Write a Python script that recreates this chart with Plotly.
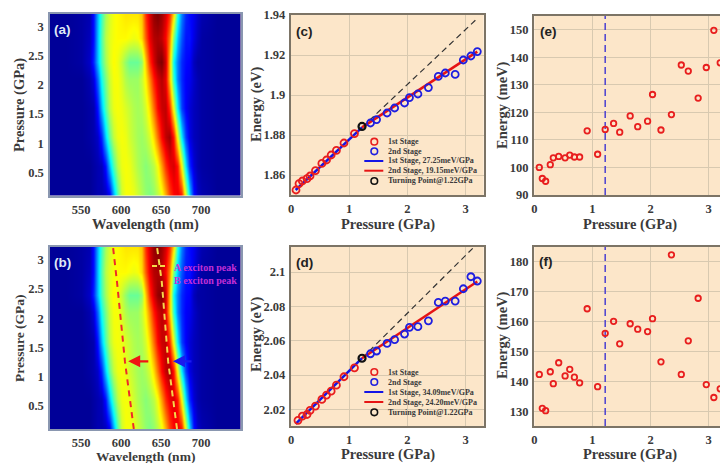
import plotly.graph_objects as go

W, H = 720, 463
SERIF = "Liberation Serif"
TXT = "#3a3a3a"

# ---------- data ----------
wavelengths = [510,530,550,560,565,570,575,580,585,590,595,600,605,610,615,620,625,630,635,640,645,650,655,660,665,670,675,680,685,690,695,700,720,750]
map_pressures = [0.1,0.6,1.1,1.6,2.1,2.4,2.8,3.22]
map_intensity = [
 [8,8,8,8,9,10,10,11,15,32,48,60,64,64,63,60,57,54,52,54,58,63,72,82,88,90,86,62,36,18,12,10,8,8],
 [8,8,8,8,9,10,11,18,34,48,58,63,64,63,60,57,55,53,55,58,64,74,84,90,92,86,64,38,20,13,10,9,8,8],
 [8,8,8,9,10,12,20,36,50,59,63,64,63,60,58,56,55,57,61,68,78,88,94,97,86,62,38,22,14,11,10,9,8,8],
 [8,8,8,9,10,18,34,48,58,63,64,63,61,59,57,56,57,61,68,78,88,93,94,84,62,38,22,16,13,11,10,9,8,8],
 [8,8,8,10,14,26,42,52,60,64,64,61,57,55,55,55,59,66,76,86,92,95,90,70,44,28,20,16,15,12,10,9,8,8],
 [8,8,9,12,20,34,47,56,62,65,63,59,54,50,50,50,54,70,84,92,98,100,92,70,40,28,20,17,16,11,9,9,8,8],
 [8,8,9,11,18,34,48,58,62,64,65,65,65,64,63,64,68,80,90,95,96,94,88,76,52,34,24,18,18,14,11,9,8,8],
 [8,8,9,10,18,33,46,56,61,64,65,66,67,67,67,67,70,84,92,98,100,97,92,84,68,42,28,20,17,15,12,10,8,8],
]
peak_b_wl = [616,605,595,590]
peak_a_wl = [670,659,651,645]
peak_p = [0.1,1.25,2.62,3.22]

pressure = [0.086,0.138,0.195,0.275,0.327,0.42,0.53,0.61,0.69,0.78,0.91,1.09,1.22,1.365,1.47,1.65,1.78,1.95,2.035,2.18,2.36,2.53,2.65,2.82,2.96,3.09,3.2]
energy_c = [1.8525,1.8557,1.857,1.8582,1.8595,1.8622,1.8658,1.8675,1.870,1.8723,1.876,1.8807,1.8843,1.886,1.8877,1.891,1.8935,1.896,1.8987,1.9005,1.9037,1.9093,1.911,1.9103,1.9175,1.9195,1.9217]
energy_d = [2.0136,2.016,2.017,2.0194,2.0219,2.0258,2.0283,2.0306,2.0341,2.039,2.0442,2.0498,2.0524,2.054,2.0584,2.0606,2.0639,2.0678,2.0682,2.0716,2.0823,2.0831,2.0831,2.0903,2.0973,2.0948]
pressure_d = [0.12,0.195,0.275,0.327,0.42,0.53,0.61,0.69,0.78,0.91,1.09,1.22,1.365,1.47,1.65,1.78,1.95,2.035,2.18,2.36,2.53,2.65,2.82,2.96,3.09,3.2]
width_e = [100,96,95,101,103.5,104,103.5,104.5,103.8,103.8,113.3,104.8,113.8,116,112.8,118.7,114.8,116.8,126.5,113.6,119.2,137.2,135,125.2,136.3,149.8,138]
width_f = [142.3,131,130.2,143.2,139.2,146.2,141.8,144,141.4,139.5,164.2,138.2,156,160,152.5,159.2,157.4,156.6,160.9,146.5,182.2,142.3,153.5,167.7,138.9,134.6,137.5]

fit_p1 = [0.08,1.22]
fit_p2 = [1.22,3.2]
fit_c1 = [1.8525,1.8838]
fit_c2 = [1.8838,1.9217]
trend_c = [1.8838,1.9383]
fit_d1 = [2.0115,2.0498]
fit_d2 = [2.0498,2.0945]
trend_d = [2.0498,2.1165]
turn_p = [1.22]
turn_c = [1.8843]
turn_d = [2.0498]

map_x_ticks = [550,600,650,700]
map_y_ticks = [0.5,1,1.5,2,2.5,3]
map_y_text = ["0.5","1","1.5","2","2.5","3"]
p_ticks = [0,1,2,3]
c_ticks = [1.86,1.88,1.9,1.92,1.94]
c_text = ["1.86","1.88","1.9","1.92","1.94"]
d_ticks = [2.02,2.04,2.06,2.08,2.1]
d_text = ["2.02","2.04","2.06","2.08","2.1"]
e_ticks = [90,100,110,120,130,140,150]
f_ticks = [130,140,150,160,170,180]

legend_c = ["1st Stage","2nd Stage","1st Stage, 27.25meV/GPa","2nd Stage, 19.15meV/GPa","Turning Point@1.22GPa"]
legend_d = ["1st Stage","2nd Stage","1st Stage, 34.09meV/GPa","2nd Stage, 24.20meV/GPa","Turning Point@1.22GPa"]

JET = [[0,"#00007f"],[0.11,"#0000ff"],[0.36,"#00ffff"],[0.625,"#ffff00"],[0.875,"#ff0000"],[1,"#7f0000"]]
PEACH = "#fce6c9"
GRID = "#d8c9b0"
BORDER = "#7c7466"

# ---------- helpers ----------
def px(x): return x / W
def py(y): return 1 - y / H

fig = go.Figure()
tf = dict(family=SERIF, size=12.5, color=TXT, weight=700)

def axes(n, box, xr, yr, xticks, xtext, yticks, ytext, grid, border):
    l, t, r, b = box
    sx = "" if n == 1 else str(n)
    common = dict(showline=True, linecolor=border, linewidth=1.5, mirror=True, ticks="outside",
                  ticklen=1.5, tickcolor="rgba(0,0,0,0)", tickfont=tf, zeroline=False, showgrid=grid,
                  gridcolor=GRID, gridwidth=1)
    fig.update_layout({
        "xaxis"+sx: dict(common, domain=[px(l), px(r)], range=xr, tickvals=xticks, ticktext=xtext, anchor="y"+sx),
        "yaxis"+sx: dict(common, domain=[py(b), py(t)], range=yr, tickvals=yticks, ticktext=ytext, anchor="x"+sx),
    })
    return "x"+sx, "y"+sx

BOXES = {
 1:(49.5,14,241,195.5), 2:(49.5,247,241,429),
 3:(291,15,483.7,195), 4:(291,246.7,483.7,426),
 5:(534.3,16,720,195), 6:(534.3,246.7,720,426),
}
mx_text = [str(v) for v in map_x_ticks]
p_text = [str(v) for v in p_ticks]

for n in (1,2):
    xa, ya = axes(n, BOXES[n], [510.6,750], [0.1,3.22], map_x_ticks, mx_text, map_y_ticks, map_y_text, False, "#8a97b0")
    fig.add_trace(go.Heatmap(x=wavelengths, y=map_pressures, z=map_intensity, colorscale=JET, zmin=6, zmax=100,
                             zsmooth="best", showscale=False, xaxis=xa, yaxis=ya, hoverinfo="skip"))

# peak guides on (b)
fig.add_trace(go.Scatter(x=peak_b_wl, y=peak_p, mode="lines", line=dict(color="#ee2a2a", width=2, dash="6px,5px"), xaxis="x2", yaxis="y2"))
fig.add_trace(go.Scatter(x=peak_a_wl, y=peak_p, mode="lines", line=dict(color="#f5d84a", width=2, dash="6px,5px"), xaxis="x2", yaxis="y2"))

def scatter_panel(n, yvals, xvals, fit1, fit2, trend, turn, yr, yticks, ytext):
    xa, ya = axes(n, BOXES[n], [0,3.31], yr, p_ticks, p_text, yticks, ytext, True, BORDER)
    fig.add_trace(go.Scatter(x=fit_p2, y=trend, mode="lines", line=dict(color="#333", width=1.2, dash="6px,4px"), xaxis=xa, yaxis=ya))
    fig.add_trace(go.Scatter(x=fit_p1, y=fit1, mode="lines", line=dict(color="#1414e6", width=2.5), xaxis=xa, yaxis=ya))
    fig.add_trace(go.Scatter(x=fit_p2, y=fit2, mode="lines", line=dict(color="#e61414", width=2.5), xaxis=xa, yaxis=ya))
    k = xvals.index(1.22)
    fig.add_trace(go.Scatter(x=xvals[:k], y=yvals[:k], mode="markers", xaxis=xa, yaxis=ya,
                             marker=dict(symbol="circle-open", size=7, color="#e81e1e", line=dict(width=1.8, color="#e81e1e"))))
    fig.add_trace(go.Scatter(x=xvals[k+1:], y=yvals[k+1:], mode="markers", xaxis=xa, yaxis=ya,
                             marker=dict(symbol="circle-open", size=7, color="#1e1ee0", line=dict(width=1.8, color="#1e1ee0"))))
    fig.add_trace(go.Scatter(x=turn_p, y=turn, mode="markers", xaxis=xa, yaxis=ya,
                             marker=dict(symbol="circle-open", size=7, color="#111", line=dict(width=2.2, color="#111"))))

scatter_panel(3, energy_c, pressure, fit_c1, fit_c2, trend_c, turn_c, [1.85,1.94], c_ticks, c_text)
scatter_panel(4, energy_d, pressure_d, fit_d1, fit_d2, trend_d, turn_d, [2.0103,2.1148], d_ticks, d_text)

def width_panel(n, vals, yr, yticks):
    xa, ya = axes(n, BOXES[n], [0,3.196], yr, p_ticks, p_text, yticks, [str(v) for v in yticks], True, BORDER)
    fig.add_trace(go.Scatter(x=turn_p*2, y=yr, mode="lines", line=dict(color="#4a3fd0", width=1.5, dash="7px,4px"), xaxis=xa, yaxis=ya))
    fig.add_trace(go.Scatter(x=pressure, y=vals, mode="markers", xaxis=xa, yaxis=ya,
                             marker=dict(symbol="circle-open", size=5.5, color="#e81e1e", line=dict(width=1.8, color="#e81e1e"))))

width_panel(5, width_e, [90,155], e_ticks)
width_panel(6, width_f, [125.1,184.9], f_ticks)

# ---------- text ----------
anns, shapes = [], []
def label(x, y, text, color):
    anns.append(dict(x=px(x), y=py(y), xref="paper", yref="paper", text=text, showarrow=False, xanchor="left", yanchor="middle",
                     font=dict(family="Liberation Sans", size=13.5, color=color, weight=700)))
label(52,29,"(a)","#dfe8f5"); label(52,262,"(b)","#dfe8f5")
label(294,31,"(c)","#222"); label(294,262,"(d)","#222")
label(538,31,"(e)","#222"); label(537,261,"(f)","#222")

def axis_title(x, y, text, size=14.5, angle=0):
    anns.append(dict(x=px(x), y=py(y), xref="paper", yref="paper", text=text, showarrow=False, xanchor="center", yanchor="middle",
                     textangle=angle, font=dict(family=SERIF, size=size, color=TXT, weight=700)))
axis_title(145,224.5,"Wavelength (nm)")
axis_title(145,456,"Wavelength (nm)",13.5)
axis_title(388,224.5,"Pressure (GPa)")
axis_title(388,454.5,"Pressure (GPa)")
axis_title(630,224.5,"Pressure (GPa)")
axis_title(630,454.5,"Pressure (GPa)")
axis_title(19,105,"Pressure (GPa)",14.5,-90)
axis_title(19,338,"Pressure (GPa)",13.5,-90)
axis_title(256,105,"Energy (eV)",14.5,-90)
axis_title(256,335,"Energy (eV)",14.5,-90)
axis_title(502,105,"Energy (meV)",14.5,-90)
axis_title(502,335,"Energy (meV)",14.5,-90)

# legends of (c) and (d)
def legend(rows_y, texts):
    for y, t in zip(rows_y, texts):
        anns.append(dict(x=px(385.7), y=py(y), xref="paper", yref="paper", text=t, showarrow=False, xanchor="left", yanchor="middle",
                         font=dict(family=SERIF, size=8, color=TXT, weight=700)))
    for y, c in ((rows_y[0],"#e81e1e"),(rows_y[1],"#1e1ee0"),(rows_y[4],"#111")):
        shapes.append(dict(type="circle", xref="paper", yref="paper", x0=px(371), x1=px(377.6), y0=py(y+3.3), y1=py(y-3.3),
                           line=dict(color=c, width=1.6)))
    for y, c in ((rows_y[2],"#1414e6"),(rows_y[3],"#e61414")):
        shapes.append(dict(type="line", xref="paper", yref="paper", x0=px(364.3), x1=px(383.3), y0=py(y), y1=py(y),
                           line=dict(color=c, width=2)))
legend([141.7,151.3,161,170.7,181], legend_c)
legend([372,382,392,402,412.3], legend_d)

# (b) annotations
for y, t in ((267,"A exciton peak"),(280,"B exciton peak")):
    anns.append(dict(x=px(205), y=py(y), xref="paper", yref="paper", text=t, showarrow=False, xanchor="center",
                     font=dict(family=SERIF, size=10, color="#c22fd6", weight=700)))
shapes.append(dict(type="line", xref="paper", yref="paper", x0=px(152), x1=px(168), y0=py(266), y1=py(266),
                   line=dict(color="#f5d84a", width=2, dash="5px,3px")))
for (x0, x1, c) in ((636,609,"#f01414"),(690,665,"#1a1aee")):
    anns.append(dict(x=x1, y=1.26, ax=x0, ay=1.26, xref="x2", yref="y2", axref="x2", ayref="y2", text="", showarrow=True,
                     arrowhead=2, arrowsize=1, arrowwidth=2.4, arrowcolor=c))

fig.update_layout(width=W, height=H, margin=dict(l=0,r=0,t=0,b=0,autoexpand=False), showlegend=False,
                  paper_bgcolor="white", plot_bgcolor=PEACH, annotations=anns, shapes=shapes)
fig.write_html("out.html", config={"displayModeBar": False},
               post_script="document.body.style.margin='0';document.documentElement.style.overflow='hidden';")
